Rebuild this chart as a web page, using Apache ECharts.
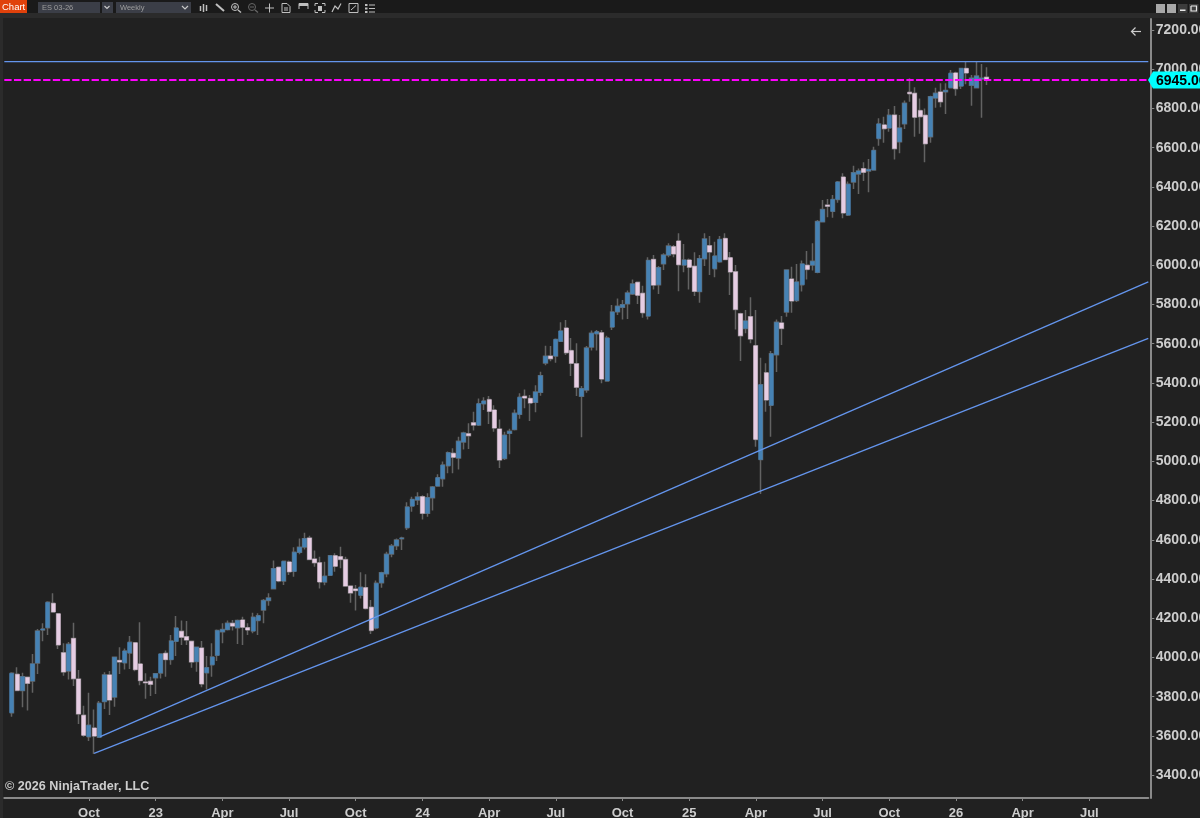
<!DOCTYPE html>
<html lang="en">
<head>
<meta charset="UTF-8">
<title>ES 03-26 Weekly</title>
<script src="https://cdn.jsdelivr.net/npm/echarts@6/dist/echarts.min.js"></script>
<style>
  html, body { margin: 0; padding: 0; background: #212121; overflow: hidden; }
  #main { width: 1200px; height: 818px; }
</style>
</head>
<body>
<div id="main"></div>
<script>
// weekly bars, oldest first
var opens = [
  3718,3914,3831,3899,3880,3972,4140,4152,4276,4223,
  4024,3931,4097,3890,3705,3596,3640,3593,3775,3911,
  3798,3985,3973,4023,4075,3967,3875,3878,3897,3921,
  4021,3989,4082,4133,4106,4082,3979,4048,3922,3963,
  4011,4131,4142,4174,4152,4191,4152,4135,4189,4242,
  4291,4351,4460,4390,4487,4439,4536,4563,4609,4502,
  4483,4385,4419,4519,4514,4499,4364,4349,4317,4356,
  4256,4150,4381,4427,4528,4570,4606,4662,4772,4803,
  4820,4735,4815,4874,4912,4978,5041,5017,5099,5141,
  5197,5185,5294,5315,5262,5165,5015,5143,5163,5240,
  5332,5321,5301,5352,5502,5537,5537,5612,5680,5565,
  5498,5332,5364,5583,5651,5656,5410,5685,5763,5786,
  5804,5854,5913,5857,5741,6030,5901,6008,6052,6095,
  6124,6001,6027,5995,5866,6034,6100,5983,6018,6137,
  6039,5967,5753,5678,5738,5590,5009,5452,5286,5544,
  5706,5762,5930,5821,5901,6000,6001,5964,6222,6307,
  6275,6336,6450,6256,6425,6466,6493,6481,6486,6647,
  6716,6700,6766,6630,6722,6882,6877,6789,6765,6656,
  6853,6884,6885,6906,6981,6914,7004,6918,6906,6950,6959
];
var closes = [
  3919,3832,3902,3868,3967,4135,4145,4281,4232,4064,
  3926,4067,3892,3712,3603,3654,3599,3766,3911,3783,
  4001,3977,4033,4077,3938,3882,3871,3863,3917,4018,
  3989,4084,4150,4103,4089,3977,4052,3865,3948,4002,
  4137,4142,4174,4160,4188,4154,4140,4205,4213,4290,
  4303,4453,4390,4490,4437,4536,4562,4606,4500,4483,
  4385,4414,4519,4465,4500,4364,4329,4341,4358,4250,
  4138,4378,4432,4526,4568,4599,4609,4767,4806,4818,
  4735,4815,4869,4917,4981,5044,5021,5102,5145,5131,
  5185,5294,5308,5255,5170,5007,5133,5153,5245,5327,
  5323,5298,5354,5437,5536,5524,5622,5665,5554,5500,
  5378,5371,5578,5653,5661,5420,5629,5762,5791,5799,
  5859,5905,5847,5758,6025,5899,5988,6052,6098,6058,
  6003,6027,5990,5867,6034,6134,6068,6047,6132,6029,
  5966,5775,5641,5716,5624,5112,5391,5313,5549,5709,
  5678,5976,5818,5915,6007,5979,6020,6223,6284,6301,
  6336,6425,6267,6413,6472,6481,6474,6489,6586,6721,
  6697,6765,6595,6700,6826,6875,6755,6758,6620,6860,
  6877,6834,6892,6979,6901,7004,6981,6954,6965,6954,6945
];
var lows = [
  3698,3830,3746,3729,3820,3916,4082,4115,4230,4043,
  3907,3887,3854,3661,3596,3574,3508,3590,3737,3707,
  3749,3916,3939,3941,3930,3858,3790,3803,3814,3893,
  3902,3963,4007,4063,4063,3948,3927,3848,3837,3902,
  3982,4072,4138,4137,4069,4063,4115,4123,4115,4174,
  4264,4348,4383,4370,4420,4412,4526,4551,4497,4463,
  4352,4368,4415,4437,4455,4361,4279,4239,4301,4245,
  4120,4143,4356,4409,4511,4548,4548,4650,4743,4778,
  4704,4718,4749,4871,4871,4939,4939,4959,5061,5063,
  5157,5180,5262,5191,5151,4966,5007,5036,5157,5218,
  5271,5206,5250,5335,5490,5510,5503,5610,5542,5435,
  5333,5123,5350,5565,5565,5398,5407,5670,5746,5724,
  5726,5848,5803,5733,5724,5877,5854,5976,6041,6041,
  5867,5964,5877,5843,5809,5996,5950,5939,6013,6027,
  5849,5673,5512,5653,5602,5075,4834,5253,5126,5456,
  5593,5738,5758,5813,5866,5928,5973,5959,6220,6245,
  6243,6319,6240,6251,6389,6364,6430,6372,6483,6610,
  6625,6681,6540,6571,6695,6834,6656,6671,6525,6625,
  6804,6806,6772,6902,6865,6899,6923,6814,6902,6753,6919
];
var highs = [
  3924,3950,3922,3902,4018,4145,4174,4286,4327,4225,
  4072,4079,4177,3936,3754,3820,3735,3778,3924,3931,
  4004,4052,4046,4109,4078,4179,3919,3902,3920,4021,
  4035,4115,4211,4188,4186,4086,4055,4084,4007,4072,
  4143,4174,4188,4191,4194,4208,4174,4228,4225,4298,
  4327,4494,4463,4494,4494,4562,4607,4636,4621,4545,
  4514,4488,4523,4531,4565,4514,4367,4369,4434,4424,
  4293,4392,4437,4539,4579,4607,4616,4791,4820,4842,
  4827,4837,4874,4934,4999,5050,5067,5126,5151,5194,
  5253,5321,5327,5333,5286,5214,5151,5167,5265,5347,
  5367,5339,5388,5457,5590,5588,5627,5709,5721,5629,
  5602,5384,5588,5667,5670,5670,5641,5797,5831,5823,
  5871,5928,5917,5896,6041,6052,5996,6061,6112,6103,
  6163,6109,6035,6066,6052,6163,6149,6120,6149,6163,
  6068,6001,5758,5772,5837,5772,5529,5500,5563,5724,
  5741,5978,5993,6007,6024,6073,6112,6231,6333,6338,
  6358,6430,6469,6427,6508,6494,6525,6542,6605,6750,
  6758,6797,6812,6766,6840,6954,6908,6851,6800,6865,
  6906,6928,6928,6996,6987,7008,7038,6970,7038,7027,7010
];

// x axis: one blank week before the first bar, blanks after the last to the edge
var totalWeeks = 223;
var tickWeeks = [16, 29, 42, 55, 68, 81, 94, 107, 120, 133, 146, 159, 172, 185, 198, 211];
var tickLabels = ['Oct', '23', 'Apr', 'Jul', 'Oct', '24', 'Apr', 'Jul', 'Oct', '25', 'Apr', 'Jul', 'Oct', '26', 'Apr', 'Jul'];
var priceTicks = [3400, 3600, 3800, 4000, 4200, 4400, 4600, 4800, 5000, 5200, 5400, 5600, 5800, 6000, 6200, 6400, 6600, 6800, 7000, 7200];

// drawn lines, [week, price]
var upperTrend = [[17.2, 3596], [221.5, 5915]];
var lowerTrend = [[16, 3511], [221.5, 5627]];
var topLine = [[-1.5, 7039], [221.5, 7039]];
var lastPrice = 6945;
var lastLine = [[-1.5, lastPrice], [221.5, lastPrice]];

var upColor = '#4682b4';
var downColor = '#e6cde3';
var wickColor = '#636363';
var lineBlue = '#6495ed';
var textColor = '#cdcdcd';
var fontName = '"Liberation Sans", Arial, sans-serif';

var categories = [];
for (var w = 0; w < totalWeeks; w++) categories.push(String(w));

// full range bars give the wicks, a second series on top paints the bodies
var wickData = [], bodyData = [];
for (var i = 0; i < opens.length; i++) {
  wickData.push([opens[i], closes[i], lows[i], highs[i]]);
  bodyData.push([opens[i], closes[i], Math.min(opens[i], closes[i]), Math.max(opens[i], closes[i])]);
}
// leading blank week
wickData.unshift('-');
bodyData.unshift('-');

function lineSeries(data, color, width, type, z) {
  return {
    type: 'line', xAxisIndex: 1, yAxisIndex: 0, data: data, symbol: 'none', silent: true,
    animation: false, z: z,
    lineStyle: { color: color, width: width, type: type }
  };
}

function rect(x, y, w, h, fill) {
  return { type: 'rect', shape: { x: x, y: y, width: w, height: h }, style: { fill: fill }, silent: true };
}
function label(x, y, text, size, color, weight) {
  return { type: 'text', x: x, y: y, silent: true,
    style: { text: text, fill: color, font: (weight || 'normal') + ' ' + size + 'px ' + fontName, textVerticalAlign: 'middle' } };
}
function stroke(points, color, width) {
  return { type: 'polyline', shape: { points: points }, style: { stroke: color || '#bdbdbd', lineWidth: width || 1, fill: null }, silent: true };
}

// window toolbar
var iconGray = '#c0c0c0';
var toolbar = [
  rect(0, 0, 1200, 13, '#1a1a1a'),
  rect(0, 13, 1200, 5, '#2b2b2b'),
  rect(0, 13, 3, 805, '#2b2b2b'),
  rect(0, 0, 27, 13, '#e0410b'),
  label(2, 7, 'Chart', 9.5, '#ffffff'),
  rect(38, 2, 62, 11, '#3b3e47'),
  label(42, 7.5, 'ES 03-26', 7.5, '#9d9d9d'),
  rect(102, 2, 11, 11, '#3b3e47'),
  stroke([[104.5, 6], [107, 8.5], [109.5, 6]], '#c8c8c8', 1.2),
  rect(116, 2, 75, 11, '#3b3e47'),
  label(120, 7.5, 'Weekly', 7.5, '#9d9d9d'),
  stroke([[182, 6], [185, 9], [188, 6]], '#c8c8c8', 1.2),
  // candles icon
  stroke([[200.5, 6], [200.5, 11]], iconGray, 1.5), stroke([[203.5, 4], [203.5, 12]], iconGray, 1.5), stroke([[206.5, 5], [206.5, 11]], iconGray, 1.5),
  // pencil
  stroke([[216, 4], [224, 11]], iconGray, 2),
  // zoom in, zoom out
  { type: 'circle', shape: { cx: 235, cy: 7, r: 3.5 }, style: { stroke: iconGray, fill: null }, silent: true },
  stroke([[233, 7], [237, 7]], iconGray), stroke([[235, 5], [235, 9]], iconGray), stroke([[238, 10], [241, 12.5]], iconGray, 1.5),
  { type: 'circle', shape: { cx: 252, cy: 7, r: 3.5 }, style: { stroke: '#666666', fill: null }, silent: true },
  stroke([[250, 7], [254, 7]], '#666666'), stroke([[255, 10], [258, 12.5]], '#666666', 1.5),
  // cross
  stroke([[265, 8], [274, 8]], iconGray), stroke([[269.5, 3.5], [269.5, 12.5]], iconGray),
  // document
  stroke([[282, 3.5], [287, 3.5], [290, 6.5], [290, 12.5], [282, 12.5], [282, 3.5]], iconGray),
  stroke([[284, 8], [288, 8]], iconGray), stroke([[284, 10], [288, 10]], iconGray),
  // frame
  stroke([[299, 9], [299, 3.5], [308, 3.5], [308, 9]], iconGray), rect(299, 4, 9, 2, iconGray),
  // capture
  stroke([[315, 6], [315, 3.5], [318, 3.5]], iconGray), stroke([[322, 3.5], [325, 3.5], [325, 6]], iconGray),
  stroke([[315, 10], [315, 12.5], [318, 12.5]], iconGray), stroke([[322, 12.5], [325, 12.5], [325, 10]], iconGray),
  rect(318, 6, 4, 5, iconGray),
  // line tool
  stroke([[332, 12], [335, 6], [338, 9], [341, 3.5]], iconGray, 1.2),
  // box
  stroke([[349, 3.5], [358, 3.5], [358, 12.5], [349, 12.5], [349, 3.5]], iconGray),
  stroke([[351, 10], [356, 5.5]], iconGray),
  // list
  rect(365, 4, 2.5, 2, iconGray), rect(365, 7.5, 2.5, 2, iconGray), rect(365, 11, 2.5, 2, iconGray),
  rect(369, 4.5, 6, 1, iconGray), rect(369, 8, 6, 1, iconGray), rect(369, 11.5, 6, 1, iconGray),
  // window buttons
  rect(1156, 4, 9, 9, '#a8a8a8'),
  rect(1167, 4, 9, 9, '#a8a8a8'),
  rect(1178, 4, 9.5, 9, '#3c3c3c'),
  rect(1180, 9.5, 5.5, 1.5, '#e8e8e8'),
  rect(1189, 4, 9.5, 9, '#3c3c3c'),
  stroke([[1191, 6], [1196.5, 6], [1196.5, 11], [1191, 11], [1191, 6]], '#e8e8e8', 1.2),
  // back arrow
  stroke([[1132, 31.5], [1141, 31.5]], '#cccccc', 1.2),
  stroke([[1135.5, 27.5], [1131.5, 31.5], [1135.5, 35.5]], '#cccccc', 1.2),
  label(5, 787, '\u00a9 2026 NinjaTrader, LLC', 12.6, textColor, 'bold')
];

var chart = echarts.init(document.getElementById('main'), null, { renderer: 'canvas' });
chart.setOption({
  animation: false,
  backgroundColor: '#212121',
  grid: { left: 4.3, top: 19, width: 1144, height: 779, containLabel: false, outerBoundsMode: 'none' },
  tooltip: { show: false },
  xAxis: [
    {
      type: 'category', data: categories, boundaryGap: true,
      axisLine: { show: true, onZero: false, lineStyle: { color: '#8a8a8a', width: 2 } },
      axisTick: {
        show: true, alignWithLabel: true, length: 3, lineStyle: { color: '#8a8a8a' },
        interval: function (index) { return tickWeeks.indexOf(index) >= 0; }
      },
      axisLabel: {
        show: true, color: textColor, fontFamily: fontName, fontWeight: 'bold', fontSize: 13, margin: 9,
        hideOverlap: false,
        interval: function (index) { return tickWeeks.indexOf(index) >= 0; },
        formatter: function (value, index) { return tickLabels[tickWeeks.indexOf(index)]; }
      },
      splitLine: { show: false }
    },
    { type: 'value', min: -1.5, max: 221.5, show: false, splitLine: { show: false } }
  ],
  yAxis: {
    type: 'value', position: 'right', offset: 2, min: 3283.2, max: 7256.1, scale: true,
    axisLine: { show: true, onZero: false, lineStyle: { color: '#8a8a8a', width: 2 } },
    axisTick: { show: true, length: 4, customValues: priceTicks, lineStyle: { color: '#8a8a8a' } },
    axisLabel: {
      color: textColor, fontFamily: fontName, fontWeight: 'bold', fontSize: 14, margin: 5.5,
      padding: [3, 0, 0, 0],
      customValues: priceTicks, showMinLabel: true, showMaxLabel: true,
      formatter: function (v) { return v.toFixed(2); }
    },
    splitLine: { show: false }
  },
  series: [
    {
      type: 'candlestick', data: wickData, barWidth: 4, z: 2, silent: true, animation: false,
      itemStyle: { color: wickColor, color0: wickColor, borderColor: wickColor, borderColor0: wickColor, borderWidth: 1.5 }
    },
    {
      type: 'candlestick', data: bodyData, barWidth: 4.5, z: 3, silent: true, animation: false,
      itemStyle: { color: upColor, color0: downColor, borderColor: upColor, borderColor0: downColor, borderWidth: 0.4 }
    },
    lineSeries(upperTrend, lineBlue, 1.3, 'solid', 5),
    lineSeries(lowerTrend, lineBlue, 1.3, 'solid', 5),
    lineSeries(topLine, lineBlue, 1.3, 'solid', 5),
    lineSeries(lastLine, '#ff00ff', 2, [7.3, 2.4], 6)
  ],
  graphic: toolbar
});

// price tag follows the value axis
var tagY = chart.convertToPixel({ yAxisIndex: 0 }, lastPrice);
chart.setOption({
  graphic: toolbar.concat([
    { type: 'polygon', z: 20, silent: true,
      shape: { points: [[1148, tagY], [1153, tagY - 8.5], [1200, tagY - 8.5], [1200, tagY + 8.5], [1153, tagY + 8.5]] },
      style: { fill: '#00ffff' } },
    { type: 'text', z: 21, x: 1156, y: tagY + 1, silent: true,
      style: { text: lastPrice.toFixed(2), fill: '#000000', font: 'bold 14px ' + fontName, textVerticalAlign: 'middle' } }
  ])
});
</script>
</body>
</html>
